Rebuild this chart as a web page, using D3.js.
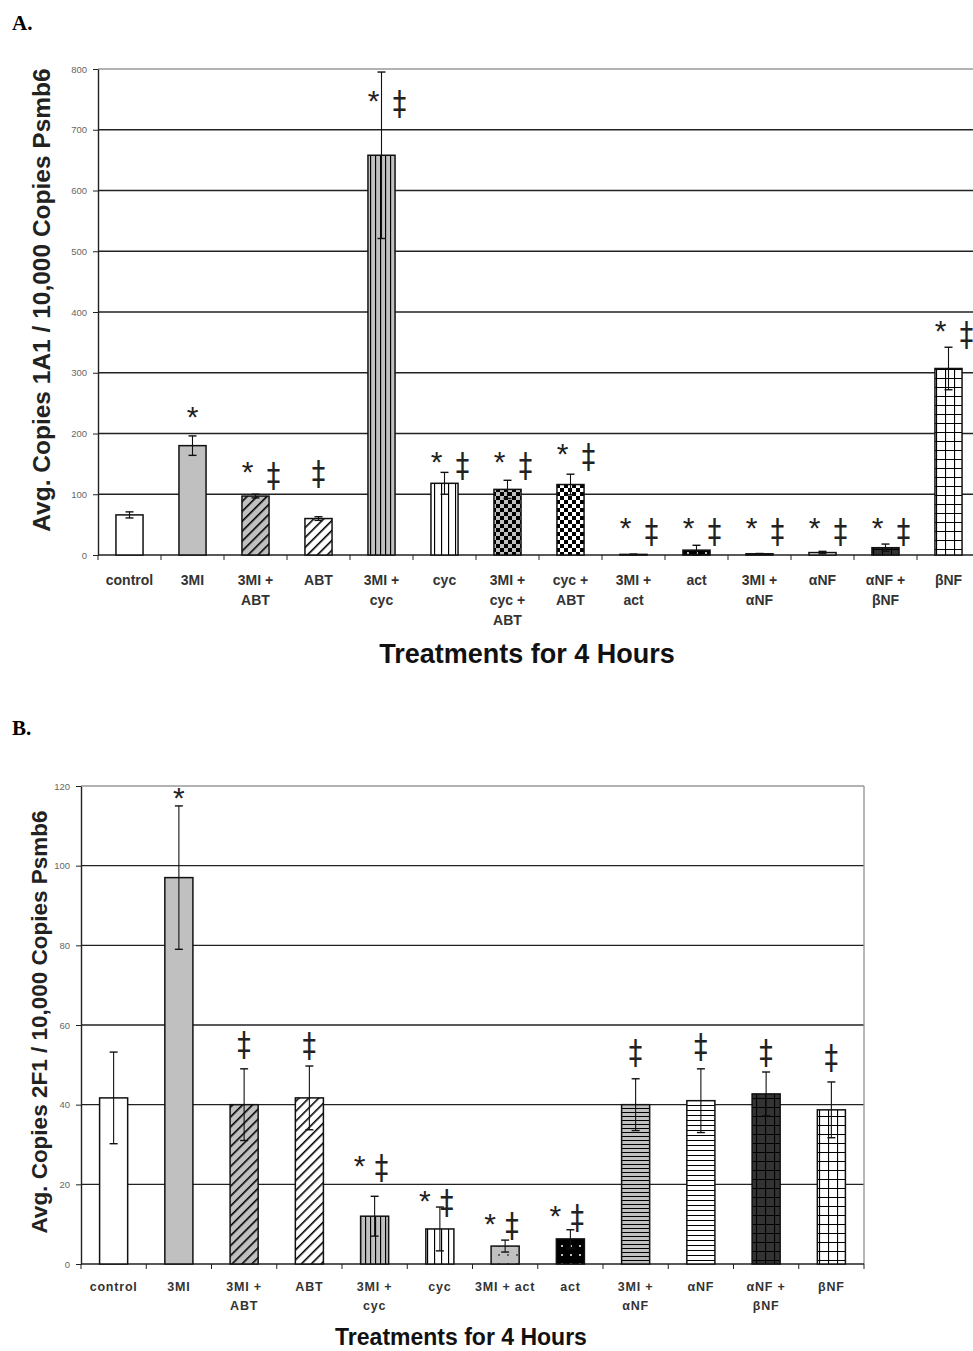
<!DOCTYPE html>
<html>
<head>
<meta charset="UTF-8">
<script src="https://cdn.jsdelivr.net/npm/d3@7/dist/d3.min.js"></script>
<style>
  body { margin: 0; background: #fff; }
  svg text { font-family: "Liberation Sans", Arial, sans-serif; }
</style>
</head>
<body>
<svg id="fig" width="973" height="1351"></svg>
<script>
// ---------------- data : panel A (1A1) ----------------
const catsA  = ["control", "3MI", "3MI +\nABT", "ABT", "3MI +\ncyc", "cyc", "3MI +\ncyc +\nABT", "cyc +\nABT",
                "3MI +\nact", "act", "3MI +\nαNF", "αNF", "αNF +\nβNF", "βNF"];
const meanA  = [66, 180, 97, 60, 658, 118, 108, 116, 1, 8, 2, 4, 12, 307];
const errA   = [5, 16, 3, 3, 137, 18, 15, 17, 0.5, 8, 0.5, 2, 6, 35];
const markA  = ["", "*", "*‡", "‡", "*‡", "*‡", "*‡", "*‡", "*‡", "*‡", "*‡", "*‡", "*‡", "*‡"];
const markYA = [0, 234, 130, 132, 741, 146, 146, 160, 38, 38, 38, 38, 38, 362];   // level of the marks
const ticksA = [0, 100, 200, 300, 400, 500, 600, 700, 800];

// ---------------- data : panel B (2F1) ----------------
const catsB  = ["control", "3MI", "3MI +\nABT", "ABT", "3MI +\ncyc", "cyc", "3MI + act", "act",
                "3MI +\nαNF", "αNF", "αNF +\nβNF", "βNF"];
const meanB  = [41.7, 97, 40, 41.7, 12, 8.8, 4.5, 6.3, 40, 41, 42.7, 38.7];
const errB   = [11.5, 18, 9, 8, 5, 5.5, 1.5, 2.3, 6.5, 8, 5.5, 7];
const markB  = ["", "*", "‡", "‡", "*‡", "*‡", "*‡", "*‡", "‡", "‡", "‡", "‡"];
const markYB = [0, 118, 55, 54.7, 24, 15.3, 9.5, 11.5, 53, 54.5, 53, 51.5];
const ticksB = [0, 20, 40, 60, 80, 100, 120];

const svg = d3.select("#fig");
const defs = svg.append("defs");
const GREY = "#c0c0c0";

// ---------------- fill patterns ----------------
function pat(id, w, h, bg, draw, rot) {
  const p = defs.append("pattern").attr("id", id)
    .attr("patternUnits", "userSpaceOnUse").attr("width", w).attr("height", h);
  if (rot) p.attr("patternTransform", "rotate(" + rot + ")");
  p.append("rect").attr("width", w).attr("height", h).attr("fill", bg);
  draw(p);
}
const vline = (sw) => (p) => p.append("line").attr("x1", 0.5).attr("x2", 0.5).attr("y1", 0).attr("y2", 100)
                               .attr("stroke", "#000").attr("stroke-width", sw);
const hline = (sw) => (p) => p.append("line").attr("x1", 0).attr("x2", 100).attr("y1", 0.5).attr("y2", 0.5)
                               .attr("stroke", "#000").attr("stroke-width", sw);
pat("diagGrey", 7, 7, GREY, vline(2.2), 45);
pat("diagWhite", 7, 7, "#fff", vline(2.2), 45);
pat("vertGrey", 5, 5, GREY, vline(1.3));
pat("vertWhite", 7, 7, "#fff", vline(1.3));
pat("horizGrey", 4, 4, GREY, hline(1.1));
pat("horizWhite", 5, 5, "#fff", hline(1.1));
pat("checkGrey", 8, 8, GREY, p => {
  p.append("rect").attr("width", 4).attr("height", 4).attr("fill", "#000");
  p.append("rect").attr("x", 4).attr("y", 4).attr("width", 4).attr("height", 4).attr("fill", "#000");
});
pat("checkWhite", 8, 8, "#fff", p => {
  p.append("rect").attr("width", 4).attr("height", 4).attr("fill", "#000");
  p.append("rect").attr("x", 4).attr("y", 4).attr("width", 4).attr("height", 4).attr("fill", "#000");
});
pat("dotsGrey", 9, 9, GREY, p => p.append("circle").attr("cx", 4).attr("cy", 4).attr("r", 0.9).attr("fill", "#333"));
pat("dotsBlack", 9, 9, "#000", p => p.append("circle").attr("cx", 4).attr("cy", 4).attr("r", 1).attr("fill", "#fff"));
const grid = (p) => { vline(1.2)(p); hline(1.2)(p); };
pat("gridDark", 9, 9, "#333", grid);
pat("gridWhite", 9, 9, "#fff", grid);

const fills = {
  "control": "#fff", "3MI": GREY,
  "3MI + ABT": "url(#diagGrey)", "ABT": "url(#diagWhite)",
  "3MI + cyc": "url(#vertGrey)", "cyc": "url(#vertWhite)",
  "3MI + cyc + ABT": "url(#checkGrey)", "cyc + ABT": "url(#checkWhite)",
  "3MI + act": "url(#dotsGrey)", "act": "url(#dotsBlack)",
  "3MI + αNF": "url(#horizGrey)", "αNF": "url(#horizWhite)",
  "αNF + βNF": "url(#gridDark)", "βNF": "url(#gridWhite)"
};
const key = (c) => c.replace(/\n/g, " ");

// ---------------- one panel ----------------
function panel(o) {
  const g = svg.append("g");
  const x = d3.scaleBand().domain(o.cats).range([o.left, o.right]).padding(0.57).paddingOuter(0.285);
  const y = d3.scaleLinear().domain([0, o.max]).range([o.bottom, o.top]);
  const step = x.step(), bw = x.bandwidth();

  // gridlines
  g.selectAll(".grid").data(o.ticks.filter(t => t > 0)).join("line")
    .attr("x1", o.left).attr("x2", o.right)
    .attr("y1", d => y(d)).attr("y2", d => y(d))
    .attr("stroke", d => d === o.max ? "#999" : "#222").attr("stroke-width", 1.4);
  if (o.frame) {
    g.append("line").attr("x1", o.right).attr("x2", o.right).attr("y1", o.top).attr("y2", o.bottom)
      .attr("stroke", "#999").attr("stroke-width", 1.4);
  }

  // y axis
  const ya = g.append("g").attr("transform", `translate(${o.left},0)`)
    .call(d3.axisLeft(y).tickValues(o.ticks).tickSize(5).tickSizeOuter(0).tickPadding(6));
  ya.select(".domain").attr("stroke", "#222").attr("stroke-width", 1.4);
  ya.selectAll(".tick line").attr("stroke", "#222");
  ya.selectAll(".tick text").attr("font-size", 9.5).attr("fill", "#666")
    .attr("font-family", "Liberation Sans, Arial, sans-serif");

  // x axis line and ticks between categories
  g.append("line").attr("x1", o.left).attr("x2", o.right).attr("y1", o.bottom).attr("y2", o.bottom)
    .attr("stroke", "#222").attr("stroke-width", 1.4);
  g.selectAll(".xt").data(d3.range(o.cats.length + 1)).join("line")
    .attr("x1", i => o.left + i * step).attr("x2", i => o.left + i * step)
    .attr("y1", o.bottom).attr("y2", o.bottom + 5).attr("stroke", "#222");

  // bars
  g.selectAll(".bar").data(o.cats).join("rect")
    .attr("x", c => x(c)).attr("width", bw)
    .attr("y", (c, i) => y(o.mean[i])).attr("height", (c, i) => y(0) - y(o.mean[i]))
    .attr("fill", c => fills[key(c)]).attr("stroke", "#111").attr("stroke-width", 1.5);

  // error bars
  const eb = g.selectAll(".eb").data(o.cats).join("g")
    .attr("transform", c => `translate(${x(c) + bw / 2},0)`);
  eb.append("line").attr("y1", (c, i) => y(o.mean[i] - o.err[i])).attr("y2", (c, i) => y(o.mean[i] + o.err[i]))
    .attr("stroke", "#111").attr("stroke-width", 1.1);
  eb.append("line").attr("x1", -4).attr("x2", 4)
    .attr("y1", (c, i) => y(o.mean[i] + o.err[i])).attr("y2", (c, i) => y(o.mean[i] + o.err[i]))
    .attr("stroke", "#111").attr("stroke-width", 1.4);
  eb.append("line").attr("x1", -4).attr("x2", 4)
    .attr("y1", (c, i) => y(o.mean[i] - o.err[i])).attr("y2", (c, i) => y(o.mean[i] - o.err[i]))
    .attr("stroke", "#111").attr("stroke-width", 1.4);

  // significance marks
  o.cats.forEach((c, i) => {
    const m = o.mark[i];
    if (!m) return;
    const cx = x(c) + bw / 2, cy = y(o.markY[i]);
    const both = m.length === 2;
    if (m.includes("*")) {
      g.append("text").text("*").attr("x", both ? cx + o.starDx : cx)
        .attr("y", cy - (both ? o.starDy : 0) + 14).attr("text-anchor", "middle")
        .attr("font-size", 30).attr("fill", "#222");
    }
    if (m.includes("‡")) {
      g.append("text").text("‡")
        .attr("transform", `translate(${both ? cx + o.dagDx : cx},${cy}) scale(1,1.25)`)
        .attr("y", 8.5).attr("text-anchor", "middle")
        .attr("font-size", 27).attr("fill", "#222")
        .style("font-family", "DejaVu Sans, sans-serif");
    }
  });

  // category labels
  const lab = g.selectAll(".cl").data(o.cats).join("text")
    .attr("x", c => x(c) + bw / 2).attr("y", o.bottom + o.labDy)
    .attr("text-anchor", "middle").attr("font-size", o.labFs).attr("font-weight", "bold")
    .attr("fill", "#333").attr("letter-spacing", o.labLs);
  lab.selectAll("tspan").data(c => c.split("\n")).join("tspan")
    .attr("x", function () { return d3.select(this.parentNode).attr("x"); })
    .attr("dy", (d, j) => j === 0 ? 0 : o.labLh).text(d => d);

  // axis titles
  g.append("text").text(o.xTitle).attr("x", o.xTitleX).attr("y", o.xTitleY)
    .attr("text-anchor", "middle").attr("font-size", o.xTitleFs).attr("font-weight", "bold").attr("fill", "#111");
  g.append("text").text(o.yTitle)
    .attr("transform", `translate(${o.yTitleX},${o.yTitleY}) rotate(-90)`)
    .attr("text-anchor", "middle").attr("font-size", o.yTitleFs).attr("font-weight", "bold").attr("fill", "#222");

  // panel letter
  g.append("text").text(o.letter).attr("x", 12).attr("y", o.letterY)
    .attr("font-size", 21).attr("font-weight", "bold")
    .style("font-family", "Liberation Serif, Times New Roman, serif");
}

panel({
  cats: catsA, mean: meanA, err: errA, mark: markA, markY: markYA, ticks: ticksA, max: 800,
  left: 98, right: 980, top: 69, bottom: 555, frame: false,
  starDx: -8, starDy: 8, dagDx: 18,
  labDy: 30, labFs: 14, labLs: 0, labLh: 20,
  xTitle: "Treatments for 4 Hours", xTitleX: 527, xTitleY: 663, xTitleFs: 27,
  yTitle: "Avg. Copies 1A1 / 10,000 Copies Psmb6", yTitleX: 50, yTitleY: 300, yTitleFs: 24.5,
  letter: "A.", letterY: 30
});

panel({
  cats: catsB, mean: meanB, err: errB, mark: markB, markY: markYB, ticks: ticksB, max: 120,
  left: 81, right: 864, top: 786, bottom: 1264, frame: true,
  starDx: -15, starDy: 6, dagDx: 7,
  labDy: 27, labFs: 12.5, labLs: 0.8, labLh: 19,
  xTitle: "Treatments for 4 Hours", xTitleX: 461, xTitleY: 1345, xTitleFs: 23,
  yTitle: "Avg. Copies 2F1 / 10,000 Copies Psmb6", yTitleX: 47, yTitleY: 1022, yTitleFs: 22.5,
  letter: "B.", letterY: 735
});
</script>
</body>
</html>
